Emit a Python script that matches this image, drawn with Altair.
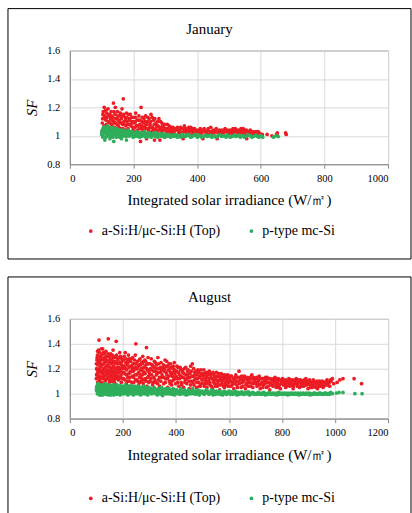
import altair as alt
import pandas as pd

# ---- series labels, colours and axis ticks ----
TOP_LABEL = "a-Si:H/μc-Si:H  (Top)"
BASE_LABEL = "p-type mc-Si"
RED = "#ec1c24"
GREEN = "#2fae5b"
X_TITLE = "Integrated  solar  irradiance  (W/㎡)"
Y_TICKS = [0.8, 1.0, 1.2, 1.4, 1.6]
JAN_X_TICKS = [0, 200, 400, 600, 800, 1000]
AUG_X_TICKS = [0, 200, 400, 600, 800, 1000, 1200]

# ---- January: (irradiance, SF) ----
JAN_TOP = [
    (102, 1.09), (104, 1.15), (106, 1.05), (108, 1.20), (110, 1.12), (112, 1.02), (113, 1.18), (115, 1.08),
    (117, 1.13), (118, 1.04), (120, 1.19), (122, 1.10), (124, 1.06), (125, 1.15), (127, 1.01), (128, 1.12),
    (130, 1.17), (132, 1.08), (134, 1.03), (135, 1.13), (137, 1.23), (138, 1.10), (140, 1.06), (142, 1.15),
    (143, 1.20), (145, 1.09), (147, 1.04), (148, 1.12), (150, 1.17), (152, 1.07), (153, 1.11), (155, 1.02),
    (157, 1.14), (158, 1.09), (160, 1.05), (162, 1.12), (164, 1.19), (166, 1.08), (168, 1.26), (170, 1.10),
    (172, 1.04), (174, 1.13), (176, 1.07), (178, 1.16), (180, 1.10),
    (183, 1.05), (186, 1.12), (188, 1.08), (190, 1.15), (193, 1.03), (195, 1.10), (198, 1.06), (200, 1.13),
    (203, 1.00), (205, 1.09), (207, 1.16), (210, 1.07), (212, 1.04), (215, 1.11), (218, 1.02), (220, 1.08),
    (222, 0.96), (224, 1.20), (226, 1.05), (228, 1.13), (231, 1.09), (234, 1.03), (236, 1.07), (238, 1.14),
    (241, 0.98), (244, 1.10), (246, 1.05), (249, 1.12), (252, 1.08), (255, 1.15), (258, 1.03), (260, 1.06),
    (263, 1.11), (266, 0.97), (268, 1.04), (271, 1.09), (274, 1.02), (277, 1.07), (280, 1.12), (283, 0.97),
    (286, 1.05), (289, 1.09), (292, 1.03), (295, 1.06), (298, 0.99),
    (302, 1.05), (306, 1.08), (310, 1.02), (314, 1.04), (318, 1.06), (322, 1.01), (326, 1.03), (330, 1.05),
    (335, 1.00), (340, 1.04), (344, 1.02), (348, 1.06), (352, 1.01), (356, 0.98), (360, 1.07), (364, 1.03),
    (368, 1.05), (372, 1.02), (376, 1.04), (380, 1.06), (384, 1.01), (388, 1.03), (392, 1.05), (396, 1.02),
    (402, 1.04), (408, 1.01), (413, 1.03), (418, 0.98), (422, 1.05), (428, 1.02), (433, 1.04), (438, 1.01),
    (443, 1.06), (448, 1.03), (453, 1.02), (458, 1.04), (463, 0.98), (468, 1.03), (473, 1.01), (478, 1.04),
    (483, 1.02), (488, 1.05), (493, 1.03), (498, 1.01), (503, 1.04), (508, 1.02), (513, 1.05), (518, 1.03),
    (523, 1.04), (528, 1.01), (533, 1.03), (538, 1.05), (543, 1.02), (548, 1.04), (553, 1.01), (556, 0.98),
    (560, 1.03), (565, 1.02), (570, 1.03), (575, 1.01), (580, 1.02), (585, 1.03), (590, 1.01), (595, 1.02),
    (600, 1.01), (605, 1.01), (620, 1.01), (635, 1.00), (650, 1.01), (652, 1.02), (678, 1.02), (680, 1.01),
]
JAN_TOP_DENSE = [
    (101, 1.03), (103, 1.12), (105, 1.17), (107, 1.07), (109, 1.14), (111, 1.05), (114, 1.11), (116, 1.16),
    (119, 1.06), (121, 1.14), (123, 1.03), (126, 1.09), (129, 1.05), (131, 1.14), (133, 1.11), (136, 1.06),
    (139, 1.17), (141, 1.09), (144, 1.12), (146, 1.02), (149, 1.08), (151, 1.14), (154, 1.06), (156, 1.10),
    (159, 1.16), (161, 1.03), (163, 1.09), (165, 1.14), (167, 1.05), (169, 1.15), (171, 1.08), (173, 1.02),
    (175, 1.11), (177, 1.04), (179, 1.13), (182, 1.08), (185, 1.15), (187, 1.02), (189, 1.11), (192, 1.07),
    (194, 1.13), (197, 1.09), (199, 1.04), (202, 1.10), (204, 1.06), (206, 1.13), (209, 1.03), (211, 1.11),
    (214, 1.07), (217, 1.14), (219, 1.05), (221, 1.11), (225, 1.07), (227, 1.10), (230, 1.04), (233, 1.12),
    (235, 1.06), (237, 1.10), (240, 1.05), (242, 1.08), (245, 1.13), (248, 1.04), (251, 1.06), (254, 1.10),
    (257, 1.06), (259, 1.13), (262, 1.04), (265, 1.08), (267, 1.12), (270, 1.05), (273, 1.07), (276, 1.10),
    (279, 1.04), (282, 1.06), (285, 1.10), (288, 1.03), (291, 1.07), (294, 1.04), (297, 1.08),
    (304, 1.03), (308, 1.05), (312, 1.07), (316, 1.02), (320, 1.04), (324, 1.06), (328, 1.02), (333, 1.04),
    (338, 1.06), (342, 1.03), (346, 1.04), (350, 1.02), (354, 1.05), (358, 1.03), (362, 1.05), (366, 1.02),
    (370, 1.04), (374, 1.06), (378, 1.03), (382, 1.04), (386, 1.05), (390, 1.02), (394, 1.04), (398, 1.03),
    (405, 1.03), (410, 1.05), (415, 1.02), (420, 1.04), (425, 1.03), (430, 1.02), (435, 1.05), (440, 1.03),
    (445, 1.02), (450, 1.04), (455, 1.03), (460, 1.05), (465, 1.02), (470, 1.04), (475, 1.03), (480, 1.02),
    (485, 1.04), (490, 1.03), (495, 1.04), (500, 1.03), (505, 1.02), (510, 1.04), (515, 1.02), (520, 1.05),
    (525, 1.03), (530, 1.04), (535, 1.02), (540, 1.03), (545, 1.05), (550, 1.03), (555, 1.04), (562, 1.02),
    (567, 1.04), (572, 1.02), (577, 1.03), (582, 1.01), (587, 1.02), (592, 1.03), (597, 1.01),
]
JAN_BASE = [
    (100, 1.01), (102, 1.04), (104, 0.99), (106, 1.06), (108, 1.02), (110, 0.97), (112, 1.05), (114, 1.01),
    (116, 1.03), (118, 1.07), (120, 1.00), (122, 1.04), (124, 1.02), (126, 0.98), (128, 1.05), (130, 1.03),
    (132, 1.00), (134, 1.06), (136, 1.02), (138, 0.96), (140, 1.04), (142, 1.01), (144, 1.03), (146, 0.99),
    (148, 1.05), (150, 1.02), (153, 1.00), (156, 1.04), (158, 1.01), (160, 1.03), (162, 0.98), (165, 1.02),
    (168, 1.04), (170, 1.00), (173, 1.03), (176, 1.01), (178, 0.97), (180, 1.02), (183, 1.04), (186, 1.00),
    (190, 1.02), (193, 1.01), (196, 1.03), (199, 0.99),
    (203, 1.02), (207, 1.00), (211, 1.03), (215, 1.01), (219, 0.99), (223, 1.02), (227, 1.00), (231, 1.015),
    (235, 1.03), (239, 0.99), (243, 1.01), (247, 1.00), (251, 1.02), (256, 0.99), (261, 1.01), (266, 1.005),
    (271, 1.02), (276, 0.99), (281, 1.01), (286, 1.00), (292, 1.015), (298, 0.99), (304, 1.00), (310, 1.01),
    (317, 0.99), (324, 1.005), (331, 1.01), (338, 0.99), (345, 1.00), (352, 1.01), (359, 0.995), (366, 1.00),
    (373, 1.005), (380, 0.99), (387, 1.00), (394, 1.01),
    (401, 0.99), (410, 1.00), (419, 0.995), (428, 1.005), (437, 1.00), (446, 0.99), (455, 1.00), (464, 0.995),
    (473, 1.005), (482, 1.00), (491, 0.99), (500, 1.00), (509, 0.995), (518, 1.005), (527, 1.00), (536, 0.99),
    (545, 1.00), (554, 0.995), (563, 1.005), (572, 0.99), (581, 1.00), (590, 0.995), (598, 1.00), (606, 0.99),
    (640, 0.99), (648, 1.00), (655, 0.995),
]
JAN_BASE_DENSE = [
    (101, 1.03), (103, 1.00), (105, 1.05), (107, 1.03), (109, 1.06), (111, 1.02), (113, 0.99), (115, 1.04),
    (117, 1.01), (119, 1.05), (121, 1.02), (123, 1.06), (125, 1.00), (127, 1.03), (129, 1.01), (131, 1.05),
    (133, 1.02), (135, 0.99), (137, 1.04), (139, 1.01), (141, 1.03), (143, 1.05), (145, 1.01), (147, 1.03),
    (149, 1.00), (151, 1.04), (154, 1.02), (157, 0.99), (159, 1.03), (161, 1.01), (163, 1.04), (166, 1.00),
    (169, 1.02), (172, 1.01), (175, 1.03), (177, 0.995), (181, 1.01), (184, 1.02), (188, 1.00), (191, 1.03),
    (195, 1.01), (198, 1.02),
    (205, 1.01), (209, 0.995), (213, 1.02), (217, 1.00), (221, 1.01), (225, 0.995), (229, 1.02), (233, 1.00),
    (237, 1.01), (241, 1.00), (245, 1.02), (249, 0.995), (254, 1.01), (259, 1.00), (264, 1.02), (269, 0.995),
    (274, 1.01), (279, 1.00), (284, 1.015), (289, 0.995), (295, 1.005), (301, 1.01), (307, 0.995), (314, 1.005),
    (321, 1.00), (328, 0.995), (335, 1.005), (342, 1.00), (349, 0.99), (356, 1.005), (363, 0.995), (370, 1.01),
    (377, 1.00), (384, 0.995), (391, 1.005), (398, 1.00),
    (405, 1.005), (414, 0.99), (423, 1.00), (432, 0.995), (441, 1.005), (450, 1.00), (459, 0.99), (468, 1.005),
    (477, 0.995), (486, 1.00), (495, 1.005), (504, 0.99), (513, 1.00), (522, 0.995), (531, 1.005), (540, 1.00),
    (549, 0.99), (558, 1.005), (567, 1.00), (576, 0.995), (585, 1.005), (594, 0.99), (602, 1.00),
]

# ---- August: (irradiance, SF) ----
AUG_TOP = [
    (100, 1.12), (101, 1.20), (102, 1.27), (103, 1.16), (104, 1.31), (105, 1.09), (106, 1.23), (108, 1.35),
    (109, 1.14), (110, 1.43), (111, 1.19), (112, 1.26), (113, 1.11), (115, 1.30), (116, 1.17), (118, 1.22),
    (119, 1.36), (120, 1.13), (122, 1.28), (123, 1.08), (125, 1.19), (126, 1.33), (128, 1.24), (129, 1.15),
    (131, 1.29), (133, 1.10), (134, 1.21), (136, 1.34), (138, 1.17), (139, 1.26), (141, 1.12), (143, 1.23),
    (145, 1.44), (146, 1.30), (148, 1.18), (149, 1.09),
    (151, 1.25), (153, 1.14), (154, 1.32), (156, 1.20), (158, 1.10), (159, 1.27), (161, 1.16), (163, 1.35),
    (164, 1.22), (166, 1.12), (168, 1.29), (169, 1.18), (171, 1.08), (173, 1.24), (175, 1.42), (176, 1.31),
    (178, 1.15), (180, 1.21), (182, 1.27), (184, 1.11), (186, 1.19), (188, 1.33), (190, 1.14), (192, 1.24),
    (194, 1.09), (196, 1.28), (198, 1.17),
    (201, 1.22), (203, 1.12), (205, 1.30), (207, 1.16), (209, 1.33), (211, 1.25), (213, 1.08), (215, 1.19),
    (217, 1.27), (219, 1.13), (221, 1.31), (223, 1.21), (225, 1.10), (227, 1.17), (229, 1.26), (231, 1.06),
    (233, 1.22), (235, 1.14), (237, 1.29), (239, 1.18), (241, 1.09), (243, 1.24), (245, 1.15), (247, 1.31),
    (249, 1.40), (251, 1.20), (253, 1.11), (255, 1.26), (257, 1.16), (259, 1.07), (261, 1.23), (263, 1.13),
    (265, 1.28), (267, 1.19), (269, 1.10), (271, 1.25), (273, 1.15), (275, 1.30), (277, 1.08), (279, 1.21),
    (281, 1.17), (283, 1.27), (285, 1.12), (287, 1.23), (289, 1.37), (291, 1.06), (293, 1.19), (295, 1.29),
    (297, 1.14), (299, 1.24),
    (302, 1.10), (304, 1.20), (307, 1.28), (309, 1.15), (312, 1.07), (314, 1.22), (317, 1.13), (319, 1.26),
    (322, 1.18), (324, 1.09), (327, 1.23), (329, 1.16), (332, 1.29), (334, 1.11), (337, 1.20), (339, 1.06),
    (342, 1.17), (344, 1.25), (347, 1.13), (349, 0.99), (351, 1.21), (354, 1.08), (356, 1.18), (359, 1.27),
    (361, 1.12), (364, 1.22), (366, 1.15), (369, 1.05), (371, 1.19), (374, 1.24), (376, 1.10), (379, 1.17),
    (381, 1.21), (384, 1.07), (386, 1.14), (389, 1.20), (391, 1.11), (394, 1.25), (396, 1.16), (399, 1.08),
    (402, 1.18), (405, 1.12), (408, 1.21), (411, 1.06), (414, 1.15), (417, 1.19), (420, 1.09), (423, 1.13),
    (426, 1.17), (429, 1.05), (432, 1.20), (435, 1.11), (438, 1.15), (441, 1.08), (444, 1.18), (447, 1.13),
    (450, 1.04), (453, 1.16), (456, 1.22), (459, 1.10), (462, 1.24), (465, 1.14), (468, 1.07), (471, 1.17),
    (474, 1.12), (477, 1.05), (480, 1.15), (483, 1.19), (486, 1.09), (489, 1.13), (492, 1.06), (495, 1.16),
    (498, 1.11),
    (502, 1.14), (505, 1.19), (508, 1.08), (511, 1.12), (514, 1.17), (517, 1.05), (520, 1.15), (523, 1.10),
    (526, 1.18), (529, 1.07), (532, 1.13), (535, 1.16), (538, 1.04), (541, 1.11), (544, 1.15), (547, 1.08),
    (550, 1.13), (553, 1.17), (556, 1.06), (559, 1.10), (562, 1.14), (565, 1.03), (568, 1.12), (571, 1.16),
    (574, 1.08), (577, 1.11), (580, 1.14), (583, 1.05), (586, 1.09), (589, 1.13), (592, 1.07), (595, 1.15),
    (598, 1.10),
    (602, 1.12), (606, 1.06), (610, 1.14), (614, 1.09), (618, 1.04), (622, 1.11), (626, 1.15), (630, 1.07),
    (634, 1.10), (638, 1.18), (642, 1.13), (646, 1.05), (650, 1.09), (654, 1.12), (658, 1.14), (662, 1.04),
    (666, 1.08), (670, 1.11), (674, 1.06), (678, 1.13), (682, 1.09), (686, 1.15), (690, 1.05), (694, 1.11),
    (698, 1.08),
    (702, 1.12), (706, 1.06), (710, 1.10), (714, 1.14), (718, 1.04), (722, 1.08), (726, 1.12), (730, 1.07),
    (734, 1.10), (738, 1.13), (742, 1.05), (746, 1.09), (750, 1.12), (754, 1.03), (758, 1.08), (762, 1.11),
    (766, 1.06), (770, 1.10), (774, 1.13), (778, 1.05), (782, 1.09), (786, 1.12), (790, 1.07), (794, 1.04),
    (798, 1.10),
    (802, 1.12), (806, 1.07), (810, 1.10), (814, 1.05), (818, 1.11), (822, 1.08), (826, 1.12), (830, 1.06),
    (834, 1.09), (838, 1.11), (842, 1.04), (846, 1.08), (850, 1.10), (854, 1.12), (858, 1.06), (862, 1.09),
    (866, 1.05), (870, 1.11), (874, 1.08), (878, 1.10), (882, 1.06), (886, 1.09), (890, 1.12), (894, 1.07),
    (898, 1.04),
    (902, 1.10), (906, 1.07), (910, 1.09), (914, 1.05), (918, 1.11), (922, 1.08), (926, 1.06), (930, 1.09),
    (934, 1.04), (938, 1.07), (942, 1.10), (946, 1.06), (950, 1.08), (955, 1.05), (960, 1.09), (965, 1.07),
    (970, 1.11), (975, 1.09), (980, 1.06), (985, 1.10), (990, 1.12), (995, 1.08),
    (1008, 1.09), (1018, 1.11), (1030, 1.12), (1072, 1.12), (1100, 1.08),
]
AUG_TOP_DENSE = [
    (100, 1.24), (101, 1.15), (103, 1.29), (104, 1.19), (105, 1.34), (107, 1.13), (107, 1.25), (108, 1.18),
    (110, 1.28), (111, 1.10), (112, 1.33), (114, 1.21), (114, 1.14), (116, 1.27), (117, 1.24), (118, 1.09),
    (120, 1.31), (121, 1.18), (122, 1.23), (124, 1.16), (124, 1.36), (126, 1.12), (127, 1.27), (128, 1.20),
    (130, 1.14), (130, 1.32), (132, 1.25), (133, 1.18), (135, 1.28), (135, 1.11), (137, 1.22), (138, 1.30),
    (140, 1.15), (141, 1.26), (142, 1.19), (144, 1.32), (144, 1.13), (146, 1.22), (147, 1.27), (149, 1.16),
    (150, 1.30), (151, 1.11), (152, 1.21), (154, 1.17), (155, 1.28), (157, 1.13), (157, 1.24), (159, 1.19),
    (160, 1.31), (162, 1.14), (162, 1.25), (164, 1.29), (165, 1.17), (167, 1.21), (167, 1.10), (169, 1.26),
    (170, 1.14), (172, 1.30), (172, 1.20), (174, 1.16), (175, 1.12), (177, 1.25), (177, 1.19), (179, 1.28),
    (181, 1.13), (181, 1.24), (183, 1.17), (185, 1.29), (185, 1.21), (187, 1.13), (189, 1.25), (189, 1.18),
    (191, 1.30), (193, 1.15), (193, 1.20), (195, 1.23), (197, 1.12), (197, 1.26), (199, 1.20),
    (202, 1.27), (204, 1.17), (206, 1.22), (208, 1.11), (210, 1.20), (212, 1.28), (214, 1.15), (216, 1.23),
    (218, 1.10), (220, 1.25), (222, 1.16), (224, 1.28), (226, 1.13), (228, 1.22), (230, 1.18), (232, 1.28),
    (234, 1.09), (236, 1.20), (238, 1.24), (240, 1.13), (242, 1.19), (244, 1.27), (246, 1.21), (248, 1.11),
    (250, 1.24), (252, 1.15), (254, 1.20), (256, 1.10), (258, 1.22), (260, 1.17), (262, 1.27), (264, 1.09),
    (266, 1.23), (268, 1.15), (270, 1.20), (272, 1.12), (274, 1.24), (276, 1.18), (278, 1.26), (280, 1.11),
    (282, 1.21), (284, 1.16), (286, 1.26), (288, 1.10), (290, 1.20), (292, 1.24), (294, 1.13), (296, 1.18),
    (298, 1.09),
    (301, 1.16), (303, 1.24), (306, 1.12), (308, 1.19), (311, 1.23), (313, 1.09), (316, 1.18), (318, 1.21),
    (321, 1.11), (323, 1.25), (326, 1.15), (328, 1.20), (331, 1.08), (333, 1.17), (336, 1.24), (338, 1.13),
    (341, 1.21), (343, 1.10), (346, 1.19), (348, 1.15), (353, 1.23), (355, 1.13), (358, 1.20), (360, 1.09),
    (363, 1.17), (365, 1.26), (368, 1.12), (370, 1.22), (373, 1.14), (375, 1.19), (378, 1.08), (380, 1.24),
    (383, 1.15), (385, 1.10), (388, 1.17), (390, 1.22), (393, 1.13), (395, 1.19), (398, 1.12),
    (401, 1.14), (404, 1.22), (407, 1.09), (410, 1.17), (413, 1.12), (416, 1.21), (419, 1.14), (422, 1.07),
    (425, 1.19), (428, 1.13), (431, 1.16), (434, 1.09), (437, 1.21), (440, 1.12), (443, 1.15), (446, 1.19),
    (449, 1.10), (452, 1.13), (455, 1.07), (458, 1.18), (461, 1.14), (464, 1.09), (467, 1.20), (470, 1.11),
    (473, 1.15), (476, 1.18), (479, 1.09), (482, 1.12), (485, 1.17), (488, 1.06), (491, 1.14), (494, 1.19),
    (497, 1.08),
    (501, 1.11), (504, 1.16), (507, 1.06), (510, 1.15), (513, 1.10), (516, 1.13), (519, 1.08), (522, 1.17),
    (525, 1.12), (528, 1.09), (531, 1.15), (534, 1.06), (537, 1.12), (540, 1.17), (543, 1.09), (546, 1.13),
    (549, 1.06), (552, 1.11), (555, 1.14), (558, 1.08), (561, 1.16), (564, 1.11), (567, 1.07), (570, 1.13),
    (573, 1.10), (576, 1.15), (579, 1.06), (582, 1.12), (585, 1.15), (588, 1.07), (591, 1.11), (594, 1.13),
    (597, 1.06),
    (600, 1.09), (604, 1.14), (608, 1.10), (612, 1.07), (616, 1.12), (620, 1.08), (624, 1.13), (628, 1.10),
    (632, 1.05), (636, 1.13), (640, 1.08), (644, 1.11), (648, 1.14), (652, 1.06), (656, 1.10), (660, 1.12),
    (664, 1.07), (668, 1.13), (672, 1.09), (676, 1.11), (680, 1.06), (684, 1.12), (688, 1.08), (692, 1.13),
    (696, 1.10),
    (700, 1.09), (704, 1.13), (708, 1.08), (712, 1.11), (716, 1.07), (720, 1.12), (724, 1.09), (728, 1.05),
    (732, 1.12), (736, 1.08), (740, 1.11), (744, 1.13), (748, 1.06), (752, 1.09), (756, 1.12), (760, 1.07),
    (764, 1.10), (768, 1.12), (772, 1.08), (776, 1.11), (780, 1.07), (784, 1.10), (788, 1.05), (792, 1.11),
    (796, 1.08),
    (800, 1.10), (804, 1.09), (808, 1.11), (812, 1.08), (816, 1.06), (820, 1.10), (824, 1.07), (828, 1.09),
    (832, 1.11), (836, 1.07), (840, 1.10), (844, 1.06), (848, 1.11), (852, 1.08), (856, 1.10), (860, 1.07),
    (864, 1.11), (868, 1.09), (872, 1.06), (876, 1.10), (880, 1.08), (884, 1.11), (888, 1.07), (892, 1.09),
    (896, 1.10),
    (900, 1.08), (904, 1.11), (908, 1.05), (912, 1.09), (916, 1.07), (920, 1.10), (924, 1.08), (928, 1.05),
    (932, 1.10), (936, 1.08), (940, 1.06), (944, 1.09), (948, 1.07), (952, 1.10), (957, 1.06), (962, 1.08),
    (967, 1.10), (972, 1.07), (978, 1.09), (983, 1.11),
]
AUG_BASE = [
    (100, 1.03), (102, 1.06), (104, 1.00), (106, 1.08), (108, 1.02), (110, 1.05), (112, 0.99), (114, 1.07),
    (116, 1.03), (118, 1.01), (120, 1.06), (122, 1.04), (124, 0.99), (126, 1.07), (128, 1.02), (130, 1.05),
    (132, 1.00), (134, 1.03), (136, 1.07), (138, 1.01), (140, 1.05), (142, 1.02), (144, 1.06), (146, 0.99),
    (148, 1.04), (150, 1.07), (152, 1.01), (154, 1.03), (156, 1.06), (158, 1.00), (160, 1.04), (162, 1.07),
    (164, 1.02), (166, 0.99), (168, 1.05), (170, 1.03), (172, 1.06), (174, 1.01), (176, 1.04), (178, 1.07),
    (180, 1.00), (182, 1.03), (184, 1.05), (186, 1.02), (188, 1.06), (190, 0.99), (192, 1.04), (194, 1.01),
    (196, 1.06), (198, 1.03),
    (201, 1.00), (204, 1.05), (207, 1.02), (210, 1.07), (213, 1.01), (216, 1.04), (219, 0.99), (222, 1.06),
    (225, 1.03), (228, 1.00), (231, 1.05), (234, 1.02), (237, 1.06), (240, 0.99), (243, 1.04), (246, 1.01),
    (249, 1.05), (252, 1.03), (255, 1.00), (258, 1.06), (261, 1.02), (264, 1.04), (267, 0.99), (270, 1.05),
    (273, 1.01), (276, 1.03), (279, 1.06), (282, 1.00), (285, 1.04), (288, 1.02), (291, 1.05), (294, 0.99),
    (297, 1.03),
    (302, 1.01), (306, 1.04), (310, 1.00), (314, 1.03), (318, 1.05), (322, 1.01), (326, 1.03), (330, 0.99),
    (334, 1.04), (338, 1.02), (342, 1.00), (346, 1.05), (350, 0.985), (354, 1.03), (358, 1.01), (362, 1.04),
    (366, 1.00), (370, 1.02), (374, 1.04), (378, 1.00), (382, 1.03), (386, 1.01), (390, 1.04), (394, 0.99),
    (398, 1.02), (403, 1.03), (408, 1.00), (413, 1.02), (418, 1.04), (423, 1.00), (428, 1.02), (433, 1.03),
    (438, 0.99), (443, 1.01), (448, 1.03), (453, 1.00), (458, 1.02), (463, 1.04), (468, 1.00), (473, 1.02),
    (478, 1.01), (483, 1.03), (488, 0.99), (493, 1.01), (498, 1.02),
    (504, 1.00), (510, 1.02), (516, 1.03), (522, 1.00), (528, 1.01), (534, 1.03), (540, 0.99), (546, 1.01),
    (552, 1.02), (558, 1.00), (564, 1.02), (570, 1.01), (576, 0.99), (582, 1.02), (588, 1.00), (594, 1.01),
    (600, 1.02), (606, 0.995), (612, 1.01), (618, 1.00), (624, 1.02), (630, 0.99), (636, 1.01), (642, 1.00),
    (648, 1.015), (654, 0.995), (660, 1.01), (666, 1.00), (672, 1.015), (678, 0.99), (684, 1.005), (690, 1.01),
    (696, 0.995),
    (703, 1.00), (710, 1.01), (717, 0.995), (724, 1.005), (731, 1.01), (738, 0.99), (745, 1.00), (752, 1.01),
    (759, 0.995), (766, 1.005), (773, 1.00), (780, 0.99), (787, 1.01), (794, 1.00), (801, 0.995), (808, 1.005),
    (815, 1.00), (822, 0.99), (829, 1.005), (836, 1.00), (843, 0.995), (850, 1.005), (857, 1.00), (864, 0.99),
    (871, 1.005), (878, 1.00), (885, 0.995), (892, 1.005), (899, 1.00), (906, 0.99), (913, 1.00), (920, 1.005),
    (927, 0.995), (934, 1.00), (941, 1.005), (948, 0.995), (955, 1.00), (962, 1.005), (969, 0.995), (976, 1.00),
    (983, 1.01), (990, 1.00),
    (1005, 1.005), (1015, 1.01), (1030, 1.01), (1075, 1.00), (1102, 1.00),
]
AUG_BASE_DENSE = [
    (101, 1.05), (103, 1.02), (105, 1.07), (107, 1.00), (109, 1.04), (111, 1.07), (113, 1.02), (115, 1.05),
    (117, 0.99), (119, 1.04), (121, 1.01), (123, 1.06), (125, 1.03), (127, 1.00), (129, 1.05), (131, 1.08),
    (133, 1.02), (135, 1.05), (137, 0.995), (139, 1.04), (141, 1.07), (143, 1.00), (145, 1.03), (147, 1.06),
    (149, 1.01), (151, 1.05), (153, 1.02), (155, 0.99), (157, 1.04), (159, 1.06), (161, 1.01), (163, 1.03),
    (165, 1.06), (167, 1.02), (169, 1.00), (171, 1.04), (173, 1.07), (175, 1.02), (177, 0.995), (179, 1.05),
    (181, 1.02), (183, 1.06), (185, 1.00), (187, 1.04), (189, 1.02), (191, 1.06), (193, 1.00), (195, 1.03),
    (197, 1.05), (199, 1.01),
    (202, 1.04), (205, 1.00), (208, 1.06), (211, 1.03), (214, 1.00), (217, 1.05), (220, 1.02), (223, 1.04),
    (226, 1.06), (229, 1.01), (232, 1.03), (235, 1.00), (238, 1.04), (241, 1.02), (244, 1.06), (247, 1.00),
    (250, 1.03), (253, 1.05), (256, 1.02), (259, 1.00), (262, 1.04), (265, 1.01), (268, 1.03), (271, 1.05),
    (274, 1.00), (277, 1.02), (280, 1.04), (283, 1.02), (286, 1.00), (289, 1.04), (292, 1.01), (295, 1.03),
    (298, 1.05),
    (304, 1.02), (308, 1.00), (312, 1.03), (316, 1.01), (320, 1.04), (324, 1.00), (328, 1.02), (332, 1.01),
    (336, 1.03), (340, 1.00), (344, 1.02), (348, 1.04), (352, 1.00), (356, 1.02), (360, 1.00), (364, 1.02),
    (368, 1.04), (372, 1.00), (376, 1.02), (380, 1.01), (384, 0.995), (388, 1.02), (392, 1.01), (396, 1.03),
    (400, 1.00), (405, 1.02), (410, 1.01), (415, 0.995), (420, 1.02), (425, 1.01), (430, 1.00), (435, 1.02),
    (440, 1.01), (445, 0.995), (450, 1.02), (455, 1.01), (460, 1.00), (465, 1.02), (470, 1.005), (475, 0.995),
    (480, 1.02), (485, 1.00), (490, 1.02), (495, 1.005),
    (501, 1.01), (507, 0.995), (513, 1.01), (519, 1.02), (525, 0.995), (531, 1.01), (537, 1.00), (543, 1.02),
    (549, 0.995), (555, 1.01), (561, 1.00), (567, 0.995), (573, 1.01), (579, 1.00), (585, 1.015), (591, 0.995),
    (597, 1.01), (603, 1.00), (609, 1.015), (615, 0.995), (621, 1.005), (627, 1.00), (633, 1.01), (639, 0.995),
    (645, 1.005), (651, 1.00), (657, 0.995), (663, 1.005), (669, 1.00), (675, 1.01), (681, 0.995), (687, 1.00),
    (693, 1.005), (699, 1.00),
    (706, 0.995), (713, 1.005), (720, 1.00), (727, 0.995), (734, 1.005), (741, 1.00), (748, 0.995), (755, 1.005),
    (762, 1.00), (769, 0.995), (776, 1.005), (783, 1.00), (790, 0.995), (797, 1.005), (804, 1.00), (811, 0.995),
    (818, 1.005), (825, 1.00), (832, 0.995), (839, 1.005), (846, 1.00), (853, 0.995), (860, 1.005), (867, 1.00),
    (874, 0.995), (881, 1.005), (888, 1.00), (895, 0.995), (902, 1.005), (909, 1.00), (916, 0.995), (923, 1.005),
    (930, 1.00), (937, 0.995), (944, 1.005), (951, 1.00), (958, 0.995), (965, 1.005), (972, 1.00), (979, 0.995),
    (986, 1.005),
]

SERIF = "Liberation Serif"
PLOT_W = 319
BOX_LEFT, BOX_RIGHT = -62, 342


def one_row():
    return alt.Data(values=[{"k": 0}])


def panel(month, top_pts, base_pts, x_ticks, plot_h, legend_y, closed_box):
    rows = [{"x": x, "y": y, "series": TOP_LABEL} for x, y in top_pts]
    rows += [{"x": x, "y": y, "series": BASE_LABEL} for x, y in base_pts]
    df = pd.DataFrame(rows)

    dots = alt.Chart(df).mark_circle(size=14, opacity=1).encode(
        x=alt.X(
            "x:Q",
            scale=alt.Scale(domain=[x_ticks[0], x_ticks[-1]], nice=False),
            axis=alt.Axis(
                values=x_ticks, format="d", title=X_TITLE, grid=True, tickSize=4,
                labelPadding=5, titlePadding=9,
            ),
        ),
        y=alt.Y(
            "y:Q",
            scale=alt.Scale(domain=[0.8, 1.6], nice=False, zero=False),
            axis=alt.Axis(
                values=Y_TICKS, format="~g", title="SF", titleFontStyle="italic",
                tickSize=0, labelPadding=10, titlePadding=7, grid=True,
            ),
        ),
        color=alt.Color(
            "series:N",
            scale=alt.Scale(domain=[TOP_LABEL, BASE_LABEL], range=[RED, GREEN]),
            legend=alt.Legend(
                title=None, orient="none", direction="horizontal",
                legendX=14, legendY=legend_y, symbolType="circle", symbolSize=14,
                labelFont=SERIF, labelFontSize=14, labelColor="#000",
                labelOffset=4, columnPadding=20,
            ),
        ),
    )

    heading = alt.Chart(one_row()).mark_text(
        text=month, font=SERIF, fontSize=15, color="#000", baseline="middle", align="center"
    ).encode(x=alt.value((BOX_LEFT + BOX_RIGHT) / 2), y=alt.value(-22))

    frame_style = dict(color="#000", strokeWidth=1)
    if closed_box:
        frame = alt.Chart(one_row()).mark_rect(fill=None, stroke="#000", strokeWidth=1).encode(
            x=alt.value(BOX_LEFT), x2=alt.value(BOX_RIGHT),
            y=alt.value(-42), y2=alt.value(plot_h + 95),
        )
        layers = [frame]
    else:
        bottom = plot_h + 96
        top_edge = alt.Chart(one_row()).mark_rule(**frame_style).encode(
            x=alt.value(BOX_LEFT), x2=alt.value(BOX_RIGHT), y=alt.value(-42)
        )
        left_edge = alt.Chart(one_row()).mark_rule(**frame_style).encode(
            x=alt.value(BOX_LEFT), y=alt.value(-42), y2=alt.value(bottom)
        )
        right_edge = alt.Chart(one_row()).mark_rule(**frame_style).encode(
            x=alt.value(BOX_RIGHT), y=alt.value(-42), y2=alt.value(bottom)
        )
        layers = [top_edge, left_edge, right_edge]

    return alt.layer(*layers, heading, dots).properties(width=PLOT_W, height=plot_h)


jan = panel("January", JAN_TOP + JAN_TOP_DENSE, JAN_BASE + JAN_BASE_DENSE, JAN_X_TICKS, 114, 174, True)
aug = panel("August", AUG_TOP + AUG_TOP_DENSE, AUG_BASE + AUG_BASE_DENSE, AUG_X_TICKS, 100, 173, False)

chart = (
    alt.vconcat(jan, aug, spacing=16)
    .resolve_scale(color="independent", x="independent", y="independent")
    .resolve_legend(color="independent")
    .properties(padding={"left": 7, "top": 7, "right": 0, "bottom": 0}, background="#ffffff")
    .configure(font=SERIF)
    .configure_view(stroke="#8a8a8a", strokeWidth=1)
    .configure_axis(
        labelFont=SERIF, labelFontSize=10.5, labelColor="#000",
        titleFont=SERIF, titleFontSize=15, titleColor="#000", titleFontWeight="normal",
        gridColor="#d9d9d9", gridWidth=1, domainColor="#8a8a8a", tickColor="#8a8a8a",
    )
    .configure_legend(labelFont=SERIF)
)

chart.save("out.html", embed_options={"renderer": "svg", "actions": False})
